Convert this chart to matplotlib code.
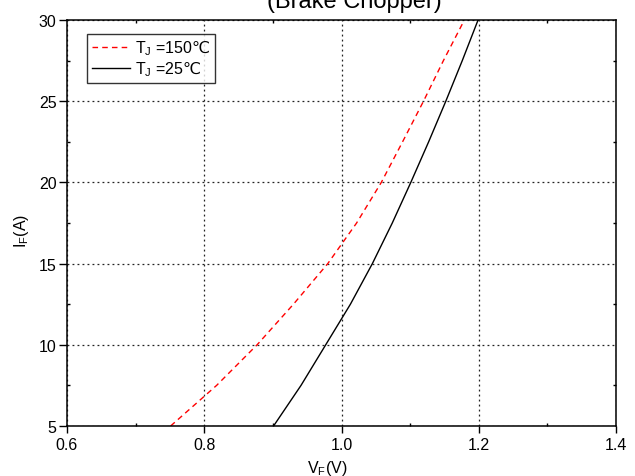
import matplotlib
matplotlib.use("Agg")
import matplotlib.pyplot as plt
from matplotlib.ticker import MultipleLocator

# ---- data ----
vf_150 = [0.751, 0.818, 0.877, 0.930, 0.980, 1.022, 1.058, 1.089, 1.1195, 1.1485, 1.176]
if_150 = [5.0, 7.5, 10.0, 12.5, 15.0, 17.5, 20.0, 22.5, 25.0, 27.5, 29.75]
vf_25 = [0.901, 0.941, 0.977, 1.013, 1.045, 1.074, 1.101, 1.127, 1.152, 1.176, 1.199]
if_25 = [5.0, 7.5, 10.0, 12.5, 15.0, 17.5, 20.0, 22.5, 25.0, 27.5, 30.0]
label_150 = r"T$_\mathregular{J}$ =150$\mathrm{℃}$"
label_25 = r"T$_\mathregular{J}$ =25$\mathrm{℃}$"
x_ticks = [0.6, 0.8, 1.0, 1.2, 1.4]
y_ticks = [5, 10, 15, 20, 25, 30]
title = "(Brake Chopper)"
xlabel = r"V$_\mathregular{F}$(V)"
ylabel = r"I$_\mathregular{F}$(A)"

plt.rcParams['font.family'] = ['Liberation Sans', 'DejaVu Sans']
plt.rcParams['mathtext.fontset'] = 'dejavusans'

fig = plt.figure(figsize=(6.35, 4.77), dpi=100)
ax = fig.add_axes([67 / 635, 1 - 427 / 477, 549 / 635, 406 / 477])

ax.plot(vf_150, if_150, color='#ff0000', lw=1.0, linestyle=(0, (4, 3)), label=label_150)
ax.plot(vf_25, if_25, color='black', lw=1.0, label=label_25)

ax.set_xlim(0.6, 1.4)
ax.set_ylim(5, 30)
ax.set_xticks(x_ticks)
ax.set_yticks(y_ticks)
ax.set_xticklabels([f"{v:.1f}" for v in x_ticks])
ax.set_yticklabels([str(v) for v in y_ticks])
ax.xaxis.set_minor_locator(MultipleLocator(0.1))
ax.yaxis.set_minor_locator(MultipleLocator(2.5))

ax.grid(True, which='major', color='#222222', linestyle=(0, (1.5, 2.5)), lw=0.9)

ax.tick_params(axis='x', which='major', direction='out', length=5, width=1.0,
               labelsize=11.5, pad=3.0, top=False)
ax.tick_params(axis='y', which='major', direction='out', length=5.5, width=1.0,
               labelsize=11.5, pad=2.0, right=False)
ax.tick_params(axis='both', which='minor', direction='in', length=2, width=1.0)
ax.tick_params(axis='x', which='minor', top=True)
ax.tick_params(axis='y', which='minor', right=True)

for s in ax.spines.values():
    s.set_linewidth(1.1)
    s.set_color('black')

ax.set_xlabel(xlabel, fontsize=11.5)
ax.xaxis.set_label_coords((327.5 - 67) / 549, -(459 - 427) / 406)
ax.set_ylabel(ylabel, fontsize=11.5)
ax.yaxis.set_label_coords((31 - 67) / 549, (427 - 231) / 406)

fig.text(354 / 635, 1 - 8 / 477, title, fontsize=17, ha='center', va='baseline')

leg = ax.legend(loc='upper left', bbox_to_anchor=((87 - 67) / 549, (427 - 35) / 406),
                borderaxespad=0, fontsize=11.5, frameon=True, fancybox=False,
                edgecolor='black', handlelength=2.4, handletextpad=0.3,
                borderpad=0.3, labelspacing=0.12)
leg.get_frame().set_linewidth(1.0)

fig.savefig("out.png", dpi=100)
